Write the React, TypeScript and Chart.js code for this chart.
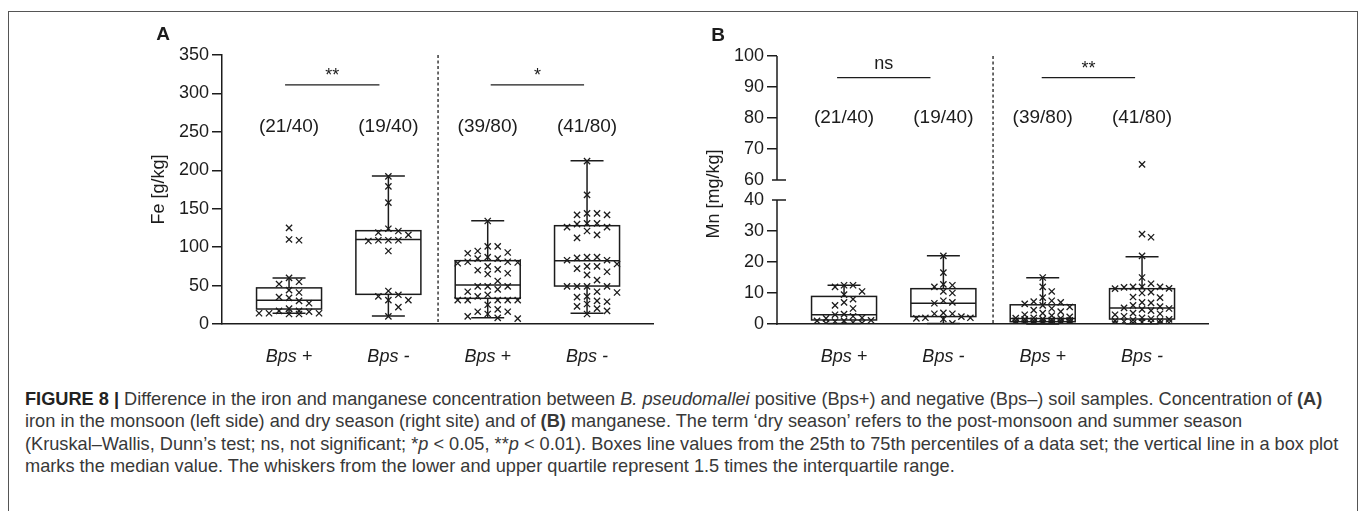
import React, { useEffect, useRef } from "react";
import { Chart, registerables } from "chart.js";

Chart.register(...registerables);

// ---------------- data ----------------
const CATEGORIES = ["Bps +", "Bps -", "Bps +", "Bps -"];
const COUNT_LABELS = ["(21/40)", "(19/40)", "(39/80)", "(41/80)"];

// Panel A: iron, Fe [g/kg]
const FE_POS_MONSOON = [125, 110, 109, 60, 55, 52, 44, 41, 35, 34, 30, 27, 20, 17, 17, 16, 14, 14, 14, 13, 13];
const FE_NEG_MONSOON = [192, 179, 158, 124, 121, 119, 116, 109, 109, 109, 108, 95, 43, 38, 36, 31, 31, 22, 10];
const FE_POS_DRY = [134, 101, 101, 95, 93, 92, 87, 85, 85, 81, 81, 80, 79, 75, 71, 70, 66, 65, 56, 49, 49, 49, 45, 42, 38, 36, 31, 31, 31, 31, 31, 25, 19, 16, 16, 13, 10, 8, 7];
const FE_NEG_DRY = [212, 168, 144, 144, 142, 142, 131, 131, 130, 126, 126, 121, 116, 112, 87, 87, 86, 83, 83, 78, 75, 75, 72, 68, 64, 57, 49, 49, 49, 49, 42, 41, 36, 35, 30, 29, 26, 23, 20, 17, 13];
const FE_Q1 = [19.5, 38.6, 33.4, 49.4];
const FE_MEDIAN = [31, 110, 50.7, 82.4];
const FE_Q3 = [47, 121.4, 82.4, 127.9];
const FE_WHISKER_LOW = [14, 10.4, 8.2, 13.9];
const FE_WHISKER_HIGH = [60, 192.6, 134.4, 212.5];
const FE_TICKS = [0, 50, 100, 150, 200, 250, 300, 350];
const FE_SIG_LABELS = ["**", "*"];
const FE_SIG_FROM = [-0.04, 2.03];
const FE_SIG_TO = [0.91, 2.97];
const FE_SIG_Y = 311;
const FE_COUNT_Y = 256;

// Panel B: manganese, Mn [mg/kg]
const MN_POS_MONSOON = [12.5, 12.5, 12, 10.5, 9.5, 8, 7, 6, 5, 3.2, 3, 2.5, 2, 1.8, 1.2, 1, 1, 0.8, 0.5, 0.3, 0.2];
const MN_NEG_MONSOON = [22, 16.6, 12.8, 12.5, 12, 10.5, 10, 7.5, 7, 6.7, 3.6, 3.3, 3.3, 2.4, 2, 2, 1.8, 1.6, 0.2];
const MN_POS_DRY = [15, 12, 10.5, 8.5, 7.5, 7.2, 7, 6.5, 6, 5.5, 5, 4.5, 4, 3.5, 3, 2.7, 2.3, 2, 1.9, 1.8, 1.6, 1.5, 1.3, 1.2, 1.1, 1, 1, 0.9, 0.8, 0.7, 0.6, 0.5, 0.5, 0.4, 0.3, 0.2, 0.2, 0.1, 0];
const MN_NEG_DRY = [65, 29, 28, 22, 15, 13, 12, 12, 12, 11.8, 11.5, 11.4, 10.3, 10, 8.7, 8.5, 7, 6.8, 6, 5.6, 5.2, 5, 4.7, 4.3, 3.5, 3.3, 3, 2.5, 2, 1.7, 1.5, 1.3, 1.1, 1, 0.8, 0.6, 0.5, 0.4, 0.3, 0.2, 0.1];
const MN_Q1 = [1.3, 2.4, 0.75, 1.6];
const MN_MEDIAN = [3.0, 6.7, 1.8, 5.2];
const MN_Q3 = [8.9, 11.4, 6.2, 11.4];
const MN_WHISKER_LOW = [0.2, 0.2, 0, 0.1];
const MN_WHISKER_HIGH = [12.5, 22, 14.9, 21.7];
const MN_TICKS_LOW = [0, 10, 20, 30, 40];
const MN_TICKS_HIGH = [60, 70, 80, 90, 100];
const MN_SIG_LABELS = ["ns", "**"];
const MN_SIG_FROM = [-0.07, 1.99];
const MN_SIG_TO = [0.87, 2.93];
const MN_SIG_Y = 93;
const MN_COUNT_Y = 80;

// ---------------- style / layout ----------------
const INK = "#1c1c1c";
const FONT = '"Liberation Sans", Arial, Helvetica, sans-serif';
const CANVAS_W = 570;
const CANVAS_H = 360;
const Y_AXIS_W = 122;
const X_AXIS_H = 56;
const PAD_RIGHT = 17;
const PLOT_W = CANVAS_W - Y_AXIS_W - PAD_RIGHT;
const X_MIN = -0.675;
const X_MAX = 3.664;
const SEPARATOR_X = 1.5;
const BOX_HALF = 32.5;
const CAP_HALF = 16.5;
const PX_PER_X = PLOT_W / (X_MAX - X_MIN);

// broken axis for Mn: 0-40 then gap then 60-100
const MN_BREAK_LOW = 40;
const MN_BREAK_HIGH = 60;
const MN_GAP = 6.5;
const mnMap = (v: number) => (v <= MN_BREAK_LOW ? v : v - MN_BREAK_HIGH + MN_BREAK_LOW + MN_GAP);
const feMap = (v: number) => v;

type Spec = {
  letter: string;
  title: string;
  groups: number[][];
  q1: number[];
  med: number[];
  q3: number[];
  wLo: number[];
  wHi: number[];
  sigLabels: string[];
  sigFrom: number[];
  sigTo: number[];
  sigY: number;
  countY: number;
  yMap: (v: number) => number;
  yMax: number;
  padTop: number;
  broken: boolean;
  tickValues: number[];
  swarmStep: number;
};

function swarmOffsets(values: number[], pxPerUnit: number, stepPx: number, maxCols: number, minDy: number): number[] {
  const order = values.map((_, i) => i).sort((a, b) => values[b] - values[a]);
  const placed: { col: number; y: number }[] = [];
  const out = new Array(values.length).fill(0);
  const cands = [0];
  for (let k = 1; k <= maxCols; k++) cands.push(k, -k);
  for (const i of order) {
    const y = values[i] * pxPerUnit;
    let best = 0;
    let bestScore = -Infinity;
    for (const c of cands) {
      let minD = Infinity;
      for (const p of placed) if (p.col === c) minD = Math.min(minD, Math.abs(p.y - y));
      if (minD >= minDy) {
        best = c;
        break;
      }
      if (minD > bestScore) {
        bestScore = minD;
        best = c;
      }
    }
    placed.push({ col: best, y });
    out[i] = best * stepPx;
  }
  return out;
}

function makeDecor(spec: Spec) {
  return {
    id: "decor" + spec.letter,
    beforeDatasetsDraw(chart: any) {
      const { ctx, chartArea } = chart;
      const xs = chart.scales.x;
      const ys = chart.scales.y;
      const py = (v: number) => ys.getPixelForValue(spec.yMap(v));
      ctx.save();
      ctx.strokeStyle = INK;
      ctx.lineWidth = 1.3;
      ctx.setLineDash([3, 2.5]);
      const sx = xs.getPixelForValue(SEPARATOR_X);
      ctx.beginPath();
      ctx.moveTo(sx, chartArea.top);
      ctx.lineTo(sx, chartArea.bottom);
      ctx.stroke();
      ctx.setLineDash([]);
      ctx.lineWidth = 1.5;
      spec.q1.forEach((_, i) => {
        const cx = xs.getPixelForValue(i);
        const yq1 = py(spec.q1[i]);
        const yq3 = py(spec.q3[i]);
        const ym = py(spec.med[i]);
        const ylo = py(spec.wLo[i]);
        const yhi = py(spec.wHi[i]);
        ctx.strokeRect(cx - BOX_HALF, yq3, BOX_HALF * 2, yq1 - yq3);
        ctx.beginPath();
        ctx.moveTo(cx - BOX_HALF, ym);
        ctx.lineTo(cx + BOX_HALF, ym);
        ctx.moveTo(cx, yq3);
        ctx.lineTo(cx, yhi);
        ctx.moveTo(cx - CAP_HALF, yhi);
        ctx.lineTo(cx + CAP_HALF, yhi);
        ctx.moveTo(cx, yq1);
        ctx.lineTo(cx, ylo);
        ctx.moveTo(cx - CAP_HALF, ylo);
        ctx.lineTo(cx + CAP_HALF, ylo);
        ctx.stroke();
      });
      ctx.restore();
    },
    afterDraw(chart: any) {
      const { ctx, chartArea } = chart;
      const xs = chart.scales.x;
      const ys = chart.scales.y;
      const py = (v: number) => ys.getPixelForValue(spec.yMap(v));
      ctx.save();
      ctx.fillStyle = INK;
      ctx.strokeStyle = INK;
      // broken axis line
      if (spec.broken) {
        const ax = chartArea.left;
        ctx.lineWidth = 1.5;
        ctx.beginPath();
        ctx.moveTo(ax, py(100));
        ctx.lineTo(ax, py(MN_BREAK_HIGH));
        ctx.moveTo(ax, py(MN_BREAK_LOW));
        ctx.lineTo(ax, py(0) + 0.75);
        ctx.moveTo(ax - 5, py(MN_BREAK_HIGH));
        ctx.lineTo(ax + 9, py(MN_BREAK_HIGH));
        ctx.moveTo(ax - 5, py(MN_BREAK_LOW));
        ctx.lineTo(ax + 9, py(MN_BREAK_LOW));
        ctx.stroke();
      }
      // count labels
      ctx.font = `19px ${FONT}`;
      ctx.textAlign = "center";
      ctx.textBaseline = "middle";
      COUNT_LABELS.forEach((t, i) => ctx.fillText(t, xs.getPixelForValue(i), py(spec.countY)));
      // significance bars
      ctx.lineWidth = 1.3;
      spec.sigLabels.forEach((t, i) => {
        const x1 = xs.getPixelForValue(spec.sigFrom[i]);
        const x2 = xs.getPixelForValue(spec.sigTo[i]);
        const y = py(spec.sigY);
        ctx.beginPath();
        ctx.moveTo(x1, y);
        ctx.lineTo(x2, y);
        ctx.stroke();
        ctx.textBaseline = "alphabetic";
        ctx.font = `18px ${FONT}`;
        ctx.fillText(t, (x1 + x2) / 2, y - (t === "ns" ? 9 : 4));
      });
      // panel letter
      ctx.font = `bold 19px ${FONT}`;
      ctx.textAlign = "center";
      ctx.textBaseline = "middle";
      ctx.fillText(spec.letter, chartArea.left - 59, chartArea.top - 20);
      // y title
      ctx.font = `18px ${FONT}`;
      ctx.translate(chartArea.left - 63, (chartArea.top + chartArea.bottom) / 2 + (spec.broken ? 4 : 0));
      ctx.rotate(-Math.PI / 2);
      ctx.fillText(spec.title, 0, 0);
      ctx.restore();
    },
  };
}

function buildConfig(spec: Spec): any {
  const plotH = CANVAS_H - X_AXIS_H - spec.padTop;
  const pxPerY = plotH / spec.yMax;
  const points: { x: number; y: number }[] = [];
  spec.groups.forEach((vals, gi) => {
    const disp = vals.map(spec.yMap);
    const offs = swarmOffsets(disp, pxPerY, spec.swarmStep, 3, 7);
    disp.forEach((d, k) => points.push({ x: gi + offs[k] / PX_PER_X, y: d }));
  });
  const tickDisplay = spec.tickValues.map(spec.yMap);
  const isBreakTick = (v: number) =>
    spec.broken && (Math.abs(v - mnMap(MN_BREAK_LOW)) < 1e-6 || Math.abs(v - mnMap(MN_BREAK_HIGH)) < 1e-6);
  return {
    type: "scatter",
    data: {
      datasets: [
        {
          data: points,
          pointStyle: "crossRot",
          radius: 4.4,
          borderWidth: 1.3,
          borderColor: INK,
          backgroundColor: "rgba(0,0,0,0)",
        },
      ],
    },
    options: {
      animation: false,
      responsive: false,
      events: [],
      layout: { padding: { left: 0, right: PAD_RIGHT, top: spec.padTop, bottom: 0 } },
      plugins: { legend: { display: false }, tooltip: { enabled: false } },
      scales: {
        x: {
          type: "linear",
          min: X_MIN,
          max: X_MAX,
          afterBuildTicks: (s: any) => {
            s.ticks = CATEGORIES.map((_, i) => ({ value: i }));
          },
          afterFit: (s: any) => {
            s.height = X_AXIS_H;
          },
          ticks: {
            callback: (_v: any, i: number) => CATEGORIES[i],
            autoSkip: false,
            maxRotation: 0,
            padding: 22,
            color: INK,
            font: { family: FONT, size: 18, style: "italic" },
          },
          grid: { display: false, drawTicks: false },
          border: { display: true, color: INK, width: 1.5 },
        },
        y: {
          type: "linear",
          min: 0,
          max: spec.yMax,
          afterBuildTicks: (s: any) => {
            s.ticks = tickDisplay.map((v) => ({ value: v }));
          },
          afterFit: (s: any) => {
            s.width = Y_AXIS_W;
          },
          ticks: {
            callback: (_v: any, i: number) => String(spec.tickValues[i]),
            autoSkip: false,
            padding: 3,
            color: INK,
            font: { family: FONT, size: 18 },
          },
          grid: {
            drawOnChartArea: false,
            drawTicks: true,
            tickLength: 10,
            lineWidth: 1.5,
            color: (c: any) => (c.tick && isBreakTick(c.tick.value) ? "rgba(0,0,0,0)" : INK),
          },
          border: { display: !spec.broken, color: INK, width: 1.5 },
        },
      },
    },
    plugins: [makeDecor(spec)],
  };
}

const SPEC_A: Spec = {
  letter: "A",
  title: "Fe [g/kg]",
  groups: [FE_POS_MONSOON, FE_NEG_MONSOON, FE_POS_DRY, FE_NEG_DRY],
  q1: FE_Q1,
  med: FE_MEDIAN,
  q3: FE_Q3,
  wLo: FE_WHISKER_LOW,
  wHi: FE_WHISKER_HIGH,
  sigLabels: FE_SIG_LABELS,
  sigFrom: FE_SIG_FROM,
  sigTo: FE_SIG_TO,
  sigY: FE_SIG_Y,
  countY: FE_COUNT_Y,
  yMap: feMap,
  yMax: 350,
  padTop: 35,
  broken: false,
  tickValues: FE_TICKS,
  swarmStep: 10,
};

const SPEC_B: Spec = {
  letter: "B",
  title: "Mn [mg/kg]",
  groups: [MN_POS_MONSOON, MN_NEG_MONSOON, MN_POS_DRY, MN_NEG_DRY],
  q1: MN_Q1,
  med: MN_MEDIAN,
  q3: MN_Q3,
  wLo: MN_WHISKER_LOW,
  wHi: MN_WHISKER_HIGH,
  sigLabels: MN_SIG_LABELS,
  sigFrom: MN_SIG_FROM,
  sigTo: MN_SIG_TO,
  sigY: MN_SIG_Y,
  countY: MN_COUNT_Y,
  yMap: mnMap,
  yMax: mnMap(100),
  padTop: 36,
  broken: true,
  tickValues: [...MN_TICKS_LOW, ...MN_TICKS_HIGH],
  swarmStep: 9,
};

function Panel({ spec, left, top }: { spec: Spec; left: number; top: number }) {
  const ref = useRef<HTMLCanvasElement>(null);
  useEffect(() => {
    const chart = new Chart(ref.current as HTMLCanvasElement, buildConfig(spec));
    return () => chart.destroy();
  }, [spec]);
  return (
    <canvas
      ref={ref}
      width={CANVAS_W}
      height={CANVAS_H}
      style={{ position: "absolute", left, top, width: CANVAS_W, height: CANVAS_H }}
    />
  );
}

const CAPTION_LINES: React.ReactNode[] = [
  <>
    <b style={{ color: "#222" }}>FIGURE 8 |</b> Difference in the iron and manganese concentration between{" "}
    <i>B. pseudomallei</i> positive (Bps+) and negative (Bps–) soil samples. Concentration of <b>(A)</b>
  </>,
  <>
    iron in the monsoon (left side) and dry season (right site) and of <b>(B)</b> manganese. The term ‘dry season’
    refers to the post-monsoon and summer season
  </>,
  <>
    (Kruskal–Wallis, Dunn’s test; ns, not significant; *<i>p</i> &lt; 0.05, **<i>p</i> &lt; 0.01). Boxes line values
    from the 25th to 75th percentiles of a data set; the vertical line in a box plot
  </>,
  <>marks the median value. The whiskers from the lower and upper quartile represent 1.5 times the interquartile range.</>,
];

export default function App() {
  return (
    <div>
      <div
        style={{
          position: "absolute",
          left: 8,
          top: 11,
          width: 1350,
          height: 540,
          border: "1px solid #555",
          boxSizing: "border-box",
        }}
      />
      <Panel spec={SPEC_A} left={100} top={20} />
      <Panel spec={SPEC_B} left={655} top={20} />
      <div
        style={{
          position: "absolute",
          left: 25,
          top: 388,
          fontFamily: FONT,
          fontSize: 18.2,
          lineHeight: "22.3px",
          color: "#383838",
          whiteSpace: "nowrap",
        }}
      >
        {CAPTION_LINES.map((l, i) => (
          <div key={i}>{l}</div>
        ))}
      </div>
    </div>
  );
}
